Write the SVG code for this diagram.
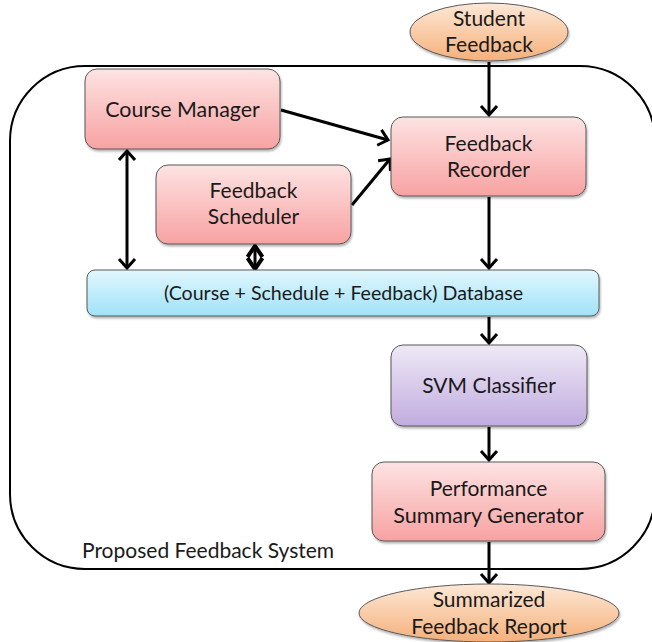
<svg xmlns="http://www.w3.org/2000/svg" width="652" height="642" viewBox="0 0 652 642">
  <defs>
    <linearGradient id="gPink" x1="0" y1="0" x2="0" y2="1">
      <stop offset="0" stop-color="#fde3e3"/>
      <stop offset="1" stop-color="#f8a2a2"/>
    </linearGradient>
    <linearGradient id="gBlue" x1="0" y1="0" x2="0" y2="1">
      <stop offset="0" stop-color="#e2f7fd"/>
      <stop offset="1" stop-color="#9fe2f8"/>
    </linearGradient>
    <linearGradient id="gPurple" x1="0" y1="0" x2="0" y2="1">
      <stop offset="0" stop-color="#eee9f6"/>
      <stop offset="1" stop-color="#c1acdf"/>
    </linearGradient>
    <linearGradient id="gOrange" x1="0" y1="0" x2="0" y2="1">
      <stop offset="0" stop-color="#fde8d6"/>
      <stop offset="1" stop-color="#f5b07a"/>
    </linearGradient>
    <filter id="shadow" x="-10%" y="-10%" width="120%" height="130%">
      <feDropShadow dx="1" dy="2" stdDeviation="1.2" flood-color="#000" flood-opacity="0.3"/>
    </filter>
    <marker id="arrow" viewBox="-12 -10 14 20" refX="0" refY="0" markerWidth="14" markerHeight="20" markerUnits="userSpaceOnUse" orient="auto-start-reverse">
      <path d="M-9,-8 L0,0 L-9,8" fill="none" stroke="#000" stroke-width="3" stroke-linejoin="miter"/>
    </marker>
    <!-- deeper head for the short two-way link, so both heads close into a diamond -->
    <marker id="arrowShort" viewBox="-14 -10 16 20" refX="0" refY="0" markerWidth="16" markerHeight="20" markerUnits="userSpaceOnUse" orient="auto-start-reverse">
      <path d="M-11,-7.5 L0,0 L-11,7.5" fill="none" stroke="#000" stroke-width="4" stroke-linejoin="miter"/>
    </marker>
  </defs>
  <style>
    .box { stroke: #595959; stroke-width: 1; filter: url(#shadow); }
    .pink { fill: url(#gPink); }
    .blue { fill: url(#gBlue); }
    .purple { fill: url(#gPurple); }
    .orange { fill: url(#gOrange); }
    .label { font-family: Lato, "Liberation Sans", sans-serif; font-size: 21px; fill: #1a1a1a; text-anchor: middle; }
    .conn line { stroke: #000; stroke-width: 3; fill: none; marker-end: url(#arrow); }
    .conn line.both { marker-start: url(#arrow); }
    .conn line.short { marker-start: url(#arrowShort); marker-end: url(#arrowShort); }
  </style>

  <rect width="652" height="642" fill="#ffffff"/>

  <!-- System boundary -->
  <g id="system">
    <rect x="10" y="66" width="645" height="503" rx="75" ry="75" fill="none" stroke="#000" stroke-width="2"/>
    <text x="82" y="558" font-family="Lato, Liberation Sans, sans-serif" font-size="21" fill="#1a1a1a">Proposed Feedback System</text>
  </g>

  <!-- Connectors -->
  <g id="connectors" class="conn">
    <line x1="489" y1="62" x2="489" y2="115"/>
    <line x1="281" y1="110" x2="388" y2="140"/>
    <line x1="352" y1="205" x2="390" y2="159"/>
    <line class="both" x1="127" y1="151" x2="127" y2="268"/>
    <line class="short" x1="255" y1="246" x2="255" y2="269"/>
    <line x1="489" y1="197" x2="489" y2="268"/>
    <line x1="489" y1="317" x2="489" y2="343"/>
    <line x1="489" y1="427" x2="489" y2="460"/>
    <line x1="489" y1="542" x2="489" y2="583"/>
  </g>

  <!-- Nodes -->
  <g id="student-feedback">
    <ellipse class="box orange" cx="489" cy="32" rx="79" ry="29"/>
    <text class="label" x="489" y="26">Student</text>
    <text class="label" x="489" y="52">Feedback</text>
  </g>

  <g id="course-manager">
    <rect class="box pink" x="85" y="69" width="195" height="80" rx="12"/>
    <text class="label" x="182.5" y="117" style="font-size:21.4px">Course Manager</text>
  </g>

  <g id="feedback-recorder">
    <rect class="box pink" x="391" y="117" width="195" height="79" rx="12"/>
    <text class="label" x="488.5" y="151">Feedback</text>
    <text class="label" x="488.5" y="177">Recorder</text>
  </g>

  <g id="feedback-scheduler">
    <rect class="box pink" x="156" y="165" width="195" height="79" rx="12"/>
    <text class="label" x="253.5" y="198">Feedback</text>
    <text class="label" x="253.5" y="224">Scheduler</text>
  </g>

  <g id="database">
    <rect class="box blue" x="87" y="270" width="512" height="46" rx="8"/>
    <text class="label" x="343.5" y="300" style="font-size:19.6px">(Course + Schedule + Feedback) Database</text>
  </g>

  <g id="svm-classifier">
    <rect class="box purple" x="391" y="345" width="196" height="81" rx="12"/>
    <text class="label" x="489" y="393">SVM Classifier</text>
  </g>

  <g id="performance-summary-generator">
    <rect class="box pink" x="372" y="462" width="233" height="79" rx="12"/>
    <text class="label" x="488.5" y="496">Performance</text>
    <text class="label" x="488.5" y="523" style="font-size:21.6px">Summary Generator</text>
  </g>

  <g id="summarized-feedback-report">
    <ellipse class="box orange" cx="489" cy="613" rx="130" ry="29"/>
    <text class="label" x="489" y="607">Summarized</text>
    <text class="label" x="489" y="634">Feedback Report</text>
  </g>
</svg>
